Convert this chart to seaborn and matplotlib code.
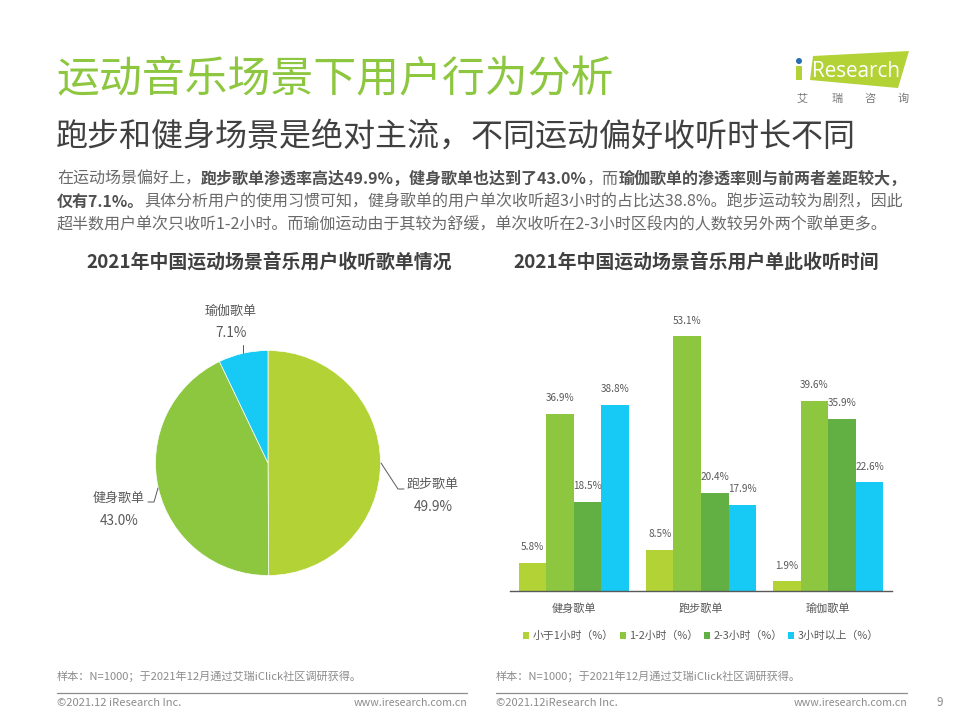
import matplotlib
matplotlib.use("Agg")
import matplotlib.pyplot as plt
import pandas as pd
import seaborn as sns
from matplotlib.patches import Polygon, Circle, Rectangle

# ---------- data ----------
pie_labels = ["跑步歌单", "健身歌单", "瑜伽歌单"]
pie_values = [49.9, 43.0, 7.1]
bar_categories = ["健身歌单", "跑步歌单", "瑜伽歌单"]
duration_labels = ["小于1小时（%）", "1-2小时（%）", "2-3小时（%）", "3小时以上（%）"]
under_1h = [5.8, 8.5, 1.9]
h1_2 = [36.9, 53.1, 39.6]
h2_3 = [18.5, 20.4, 35.9]
over_3h = [38.8, 17.9, 22.6]

title = "运动音乐场景下用户行为分析"
subtitle = "跑步和健身场景是绝对主流，不同运动偏好收听时长不同"
body_lines = [
    [("在运动场景偏好上，", False), ("跑步歌单渗透率高达49.9%，健身歌单也达到了43.0%", True),
     ("，而", False), ("瑜伽歌单的渗透率则与前两者差距较大，", True)],
    [("仅有7.1%。", True),
     ("具体分析用户的使用习惯可知，健身歌单的用户单次收听超3小时的占比达38.8%。跑步运动较为剧烈，因此", False)],
    [("超半数用户单次只收听1-2小时。而瑜伽运动由于其较为舒缓，单次收听在2-3小时区段内的人数较另外两个歌单更多。", False)],
]
body_sizes = [11.55, 11.5, 11.55]
left_title = "2021年中国运动场景音乐用户收听歌单情况"
right_title = "2021年中国运动场景音乐用户单此收听时间"
source_note = "样本：N=1000；于2021年12月通过艾瑞iClick社区调研获得。"

# ---------- style ----------
sns.set_theme(style="white")
plt.rcParams["font.family"] = ["Noto Sans CJK SC", "DejaVu Sans"]
GREY = "#595959"
LIME, GREEN, DARK, CYAN = "#B2D235", "#8DC63F", "#62B044", "#17C9F5"
W, H = 960, 720

fig = plt.figure(figsize=(9.6, 7.2), dpi=100, facecolor="white")


def px_axes(x0, y0, x1, y1):
    return fig.add_axes([x0 / W, 1 - y1 / H, (x1 - x0) / W, (y1 - y0) / H])


# ---------- overlay in pixel coordinates ----------
ov = fig.add_axes([0, 0, 1, 1], zorder=5)
ov.set_xlim(0, W)
ov.set_ylim(H, 0)
ov.axis("off")


def put(x, y, s, size, color=GREY, ha="left", weight="normal", **kw):
    return ov.text(x, y, s, fontsize=size, color=color, ha=ha, va="center", fontweight=weight, **kw)


put(56, 80, title, 30.9, color="#8DC63F")
put(56, 137, subtitle, 23.05, color="#404040")

renderer = fig.canvas.get_renderer()
for y, runs, size in zip([179, 202, 225], body_lines, body_sizes):
    x = 57
    for s, bold in runs:
        t = put(x, y, s, size, color="#6a6a6a" if not bold else "#505050", weight="bold" if bold else "normal")
        x += t.get_window_extent(renderer).width

put(269, 263, left_title, 13.6, color="#404040", ha="center", weight="bold")
put(696, 263, right_title, 13.6, color="#404040", ha="center", weight="bold")

# logo
ov.add_patch(Polygon([(813, 56), (909, 51), (898, 88), (810, 80)], closed=True, fc=LIME, ec="none"))
ov.add_patch(Rectangle((796, 66), 6, 14, fc=LIME, ec="none"))
ov.add_patch(Circle((799, 61), 3, fc="#2A6DB0", ec="none"))
put(812, 71.5, "Research", 14.9, color="white", family="Open Sans")
for lx, ch in zip([802, 837, 870, 903], "艾瑞咨询"):
    put(lx, 99, ch, 8, color="#777777", ha="center")

# footers
for x0, x1, copy in [(57, 467, "©2021.12 iResearch Inc."), (496, 907, "©2021.12iResearch Inc.")]:
    ov.plot([x0, x1], [692.5, 692.5], color="#8c8c8c", lw=0.9)
    put(x0, 676, source_note, 8.05, color="#8c8c8c")
    put(x0, 703.5, copy, 8, color="#8c8c8c")
    put(x1, 703.5, "www.iresearch.com.cn", 7.7, color="#8c8c8c", ha="right")
put(940, 703, "9", 8.5, color="#8c8c8c", ha="center")

# ---------- pie ----------
cx, cy, r = 268, 463, 112.5
ax_pie = px_axes(cx - r, cy - r, cx + r, cy + r)
ax_pie.pie(pie_values, colors=[LIME, GREEN, CYAN], startangle=90, counterclock=False, radius=1,
           wedgeprops=dict(edgecolor="white", linewidth=0.5))
ax_pie.set_xlim(-1, 1)
ax_pie.set_ylim(-1, 1)

for name, val, lx, ly1, ly2, path in [
    (pie_labels[0], pie_values[0], 433, 484, 507, [(381, 463), (398, 489), (404, 489)]),
    (pie_labels[1], pie_values[1], 119, 498, 521, [(158, 488), (154, 502), (148, 502)]),
    (pie_labels[2], pie_values[2], 231, 311, 333, [(243, 345), (243, 353)]),
]:
    put(lx, ly1, name, 9.4, ha="center")
    put(lx, ly2, f"{val:.1f}%", 9.8, ha="center")
    ov.plot(*zip(*path), color=GREY, lw=0.7)

# ---------- bars ----------
long = pd.DataFrame({
    "cat": bar_categories * 4,
    "dur": [d for d in duration_labels for _ in bar_categories],
    "val": under_1h + h1_2 + h2_3 + over_3h,
})
px_per_unit = 4.79
base_y, top_y = 590.5, 300
ax_bar = px_axes(510, top_y, 892, base_y)
sns.barplot(data=long, x="cat", y="val", hue="dur", order=bar_categories, hue_order=duration_labels,
            palette=[LIME, GREEN, DARK, CYAN], width=0.866, gap=0, saturation=1, ax=ax_bar, errorbar=None,
            linewidth=0, edgecolor="none")
ax_bar.set_ylim(0, (base_y - top_y) / px_per_unit)
ax_bar.set_xlim(-0.5, 2.5)
ax_bar.set_xlabel("")
ax_bar.set_ylabel("")
ax_bar.set_yticks([])
sns.despine(ax=ax_bar, left=True)
ax_bar.spines["bottom"].set_color(GREY)
ax_bar.spines["bottom"].set_linewidth(1.0)
ax_bar.tick_params(axis="x", length=0, pad=9, labelsize=8, labelcolor=GREY)
for c in ax_bar.containers:
    ax_bar.bar_label(c, fmt="%.1f%%", fontsize=7.2, color=GREY, padding=7.5)
sns.move_legend(ax_bar, "center", bbox_to_anchor=(0.5, (base_y - 636) / (base_y - top_y)), ncol=4,
                frameon=False, title=None, fontsize=7.8, labelcolor=GREY, handlelength=0.56,
                handleheight=0.56, handletextpad=0.3, columnspacing=0.55, borderpad=0, borderaxespad=0)

fig.savefig("out.png", dpi=100, facecolor="white")
